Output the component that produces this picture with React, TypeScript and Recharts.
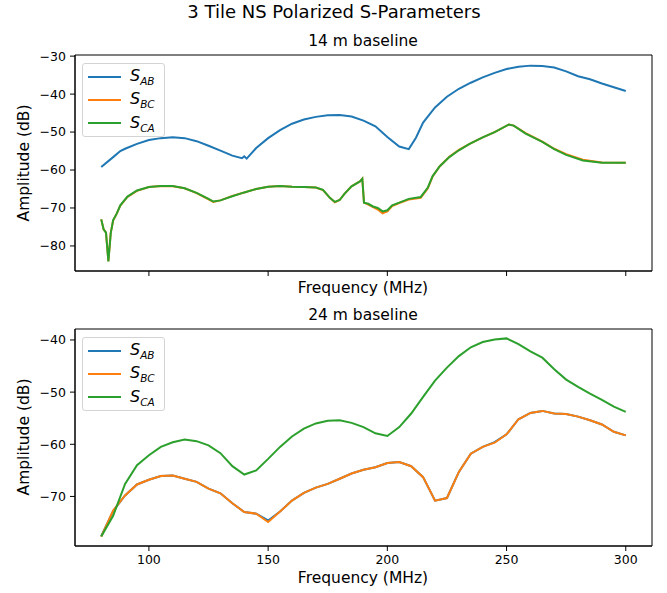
import React from "react";
import { LineChart, Line, XAxis, YAxis, Legend, ReferenceArea } from "recharts";

const FONT = "'DejaVu Sans', sans-serif";

const seriesNames = ["AB", "BC", "CA"];
const seriesColors = ["#1f77b4", "#ff7f0e", "#2ca02c"];
const freqTicks = [100, 150, 200, 250, 300];
const freqDomain = [69, 311];

// 14 m baseline
const topFreqAB = [
  80, 85, 88, 90, 95, 100, 105, 110, 115, 120, 125, 130, 135, 139, 140, 141,
  145, 150, 155, 160, 165, 170, 175, 180, 185, 190, 195, 200, 205, 209, 212,
  215, 220, 225, 230, 235, 240, 245, 250, 255, 260, 265, 270, 275, 280, 285,
  290, 295, 300,
];
const topAB = [
  -59.2, -56.6, -55.0, -54.4, -53.1, -52.1, -51.6, -51.4, -51.6, -52.4, -53.6,
  -54.9, -56.2, -56.9, -56.4, -57.0, -54.2, -51.6, -49.5, -47.8, -46.7, -46.0,
  -45.6, -45.5, -45.9, -47.0, -48.5, -51.3, -53.8, -54.5, -51.5, -47.5, -43.5,
  -40.7, -38.6, -37.0, -35.6, -34.4, -33.4, -32.8, -32.5, -32.6, -33.0, -34.0,
  -35.3, -36.1, -37.2, -38.2, -39.2,
];
const topFreq = [
  80, 81, 82, 83, 84, 85, 86.5, 88, 91, 95, 100, 105, 110, 115, 120, 125, 127,
  130, 135, 140, 145, 150, 155, 160, 165, 170, 173, 176, 178, 180, 182, 185,
  188.5, 189.5, 190.2, 192, 194, 196, 198, 200, 202, 205, 209, 214, 217, 219,
  222, 226, 230, 234.5, 240, 245, 251, 253, 258, 265, 270, 275, 282, 290, 300,
];
const topBC = [
  -73.0, -75.6, -76.5, -84.0, -76.5, -73.3, -71.5, -69.4, -67.1, -65.5, -64.5,
  -64.2, -64.3, -64.8, -66.1, -67.7, -68.4, -68.0, -66.8, -65.9, -65.0, -64.4,
  -64.2, -64.4, -64.5, -64.6, -65.3, -67.4, -68.5, -67.9, -66.3, -64.3, -63.0,
  -62.3, -68.6, -69.1, -69.8, -70.4, -71.4, -70.9, -69.5, -68.7, -67.8, -67.3,
  -64.8, -61.7, -59.0, -56.5, -54.7, -53.1, -51.4, -50.0, -48.0, -48.3, -50.3,
  -52.5, -54.4, -55.8, -57.3, -58.0, -58.1,
];
const topCA = [
  -73.0, -75.6, -76.5, -84.1, -76.6, -73.2, -71.5, -69.3, -67.0, -65.4, -64.5,
  -64.2, -64.2, -64.8, -66.0, -67.6, -68.3, -68.0, -66.9, -65.9, -65.0, -64.4,
  -64.2, -64.4, -64.5, -64.6, -65.2, -67.4, -68.4, -67.9, -66.3, -64.3, -63.0,
  -62.3, -68.6, -68.9, -69.6, -70.0, -70.9, -70.6, -69.3, -68.6, -67.6, -67.1,
  -64.6, -61.6, -59.0, -56.6, -54.8, -53.1, -51.4, -50.0, -48.0, -48.3, -50.4,
  -52.6, -54.5, -56.0, -57.5, -58.1, -58.1,
];
const topYTicks = [-80, -70, -60, -50, -40, -30];

// 24 m baseline
const botFreq = [
  80, 85, 90, 95, 100, 105, 110, 115, 120, 125, 130, 135, 140, 145, 150, 155,
  160, 165, 170, 175, 180, 185, 190, 195, 200, 205, 210, 215, 220, 225, 230,
  235, 240, 245, 250, 255, 260, 265, 270, 275, 280, 285, 290, 295, 300,
];
const botAB = [
  -77.6, -72.8, -69.8, -67.7, -66.8, -66.1, -66.0, -66.6, -67.2, -68.5, -69.4,
  -71.3, -73.0, -73.3, -74.6, -72.9, -70.8, -69.3, -68.3, -67.6, -66.6, -65.6,
  -64.9, -64.4, -63.6, -63.4, -64.2, -66.3, -70.8, -70.3, -65.3, -61.8, -60.5,
  -59.6, -58.1, -55.2, -54.0, -53.6, -54.1, -54.2, -54.7, -55.4, -56.2, -57.6,
  -58.3,
];
const botBC = [
  -77.7, -72.7, -69.8, -67.7, -66.8, -66.1, -66.0, -66.6, -67.2, -68.5, -69.4,
  -71.3, -73.0, -73.3, -74.9, -72.9, -70.8, -69.3, -68.3, -67.6, -66.6, -65.6,
  -64.9, -64.4, -63.6, -63.4, -64.2, -66.3, -70.8, -70.3, -65.3, -61.8, -60.5,
  -59.7, -58.1, -55.2, -54.0, -53.6, -54.1, -54.2, -54.7, -55.4, -56.2, -57.6,
  -58.3,
];
const botCA = [
  -77.7, -73.7, -67.6, -64.0, -62.1, -60.5, -59.6, -59.1, -59.4, -60.2, -61.7,
  -64.2, -65.8, -65.0, -62.8, -60.5, -58.5, -57.0, -56.0, -55.5, -55.4, -55.9,
  -56.7, -57.9, -58.4, -56.7, -54.1, -50.9, -47.8, -45.3, -43.1, -41.4, -40.4,
  -39.9, -39.7, -40.8, -42.2, -43.4, -45.6, -47.6, -49.0, -50.3, -51.5, -52.8,
  -53.8,
];
const botYTicks = [-70, -60, -50, -40];

const toRows = (f: number[], v: number[]) => f.map((x, i) => ({ f: x, v: v[i] }));

const fmt = (v: number) => (v < 0 ? "\u2212" + Math.abs(v) : String(v));
const tickStyle = { fill: "#000", fontSize: 12.5, fontFamily: FONT };
const noLabel = () => <g />;

const SLegend = ({ payload }: any) => (
  <div
    style={{
      border: "1px solid #d4d4d4",
      borderRadius: 3,
      background: "rgba(255,255,255,0.8)",
      width: 81,
      padding: "1px 0",
      fontFamily: FONT,
    }}
  >
    {(payload || []).map((p: any) => (
      <div key={p.value} style={{ display: "flex", alignItems: "center", height: 23.3 }}>
        <span style={{ display: "inline-block", width: 33, height: 2, background: p.color, marginLeft: 5, marginRight: 9 }} />
        <span style={{ fontStyle: "italic", fontSize: 16, color: "#000", lineHeight: "16px" }}>
          S<span style={{ fontSize: 10.5, position: "relative", top: 4 }}>{p.value}</span>
        </span>
      </div>
    ))}
  </div>
);

const Panel = ({ top, height, marginTop, xHeight, yDomain, yTicks, showXLabels, lines, legendTop }: any) => (
  <div style={{ position: "absolute", left: 0, top }}>
    <LineChart width={667} height={height} margin={{ top: marginTop, right: 15, bottom: 0, left: 0 }}>
      <XAxis
        dataKey="f"
        type="number"
        domain={freqDomain}
        ticks={freqTicks}
        tick={showXLabels ? tickStyle : noLabel}
        tickLine={{ stroke: "#000" }}
        tickSize={5}
        tickMargin={4}
        stroke="#000"
        height={xHeight}
        allowDataOverflow
      />
      <YAxis
        type="number"
        domain={yDomain}
        ticks={yTicks}
        width={75}
        tick={tickStyle}
        tickSize={5}
        tickMargin={4}
        tickFormatter={fmt}
        stroke="#000"
        allowDataOverflow
      />
      <ReferenceArea
        x1={freqDomain[0]}
        x2={freqDomain[1]}
        y1={yDomain[0]}
        y2={yDomain[1]}
        fill="none"
        fillOpacity={0}
        stroke="#000"
        strokeWidth={1}
        ifOverflow="visible"
      />
      {lines.map((s: any, i: number) => (
        <Line
          key={seriesNames[i]}
          data={s}
          dataKey="v"
          name={seriesNames[i]}
          stroke={seriesColors[i]}
          strokeWidth={2}
          dot={false}
          type="linear"
          isAnimationActive={false}
        />
      ))}
      <Legend
        layout="vertical"
        align="center"
        verticalAlign="middle"
        wrapperStyle={{ left: 82, top: legendTop, width: 83, height: 76 }}
        content={<SLegend />}
      />
    </LineChart>
  </div>
);

const Txt = ({ x, y, size, children, rotate }: any) => (
  <div
    style={{
      position: "absolute",
      left: x,
      top: y,
      transform: `translate(-50%, -50%)${rotate ? " rotate(-90deg)" : ""}`,
      fontFamily: FONT,
      fontSize: size,
      whiteSpace: "nowrap",
      lineHeight: 1,
      color: "#000",
    }}
  >
    {children}
  </div>
);

export default function App() {
  const topLines = [toRows(topFreqAB, topAB), toRows(topFreq, topBC), toRows(topFreq, topCA)];
  const botLines = [toRows(botFreq, botAB), toRows(botFreq, botBC), toRows(botFreq, botCA)];
  return (
    <div style={{ position: "absolute", left: 0, top: 0, width: 667, height: 593, background: "#fff" }}>
      <Panel
        top={0}
        height={300}
        marginTop={55}
        xHeight={29}
        yDomain={[-86.6, -29.7]}
        yTicks={topYTicks}
        showXLabels={false}
        lines={topLines}
        legendTop={63}
      />
      <Panel
        top={300}
        height={293}
        marginTop={29}
        xHeight={47}
        yDomain={[-79.5, -37.9]}
        yTicks={botYTicks}
        showXLabels={true}
        lines={botLines}
        legendTop={37}
      />
      <Txt x={334} y={12} size={18}>3 Tile NS Polarized S-Parameters</Txt>
      <Txt x={363} y={42} size={15.5}>14 m baseline</Txt>
      <Txt x={363} y={289} size={15.5}>Frequency (MHz)</Txt>
      <Txt x={25} y={163} size={15.5} rotate>Amplitude (dB)</Txt>
      <Txt x={363} y={316} size={15.5}>24 m baseline</Txt>
      <Txt x={363} y={579} size={15.5}>Frequency (MHz)</Txt>
      <Txt x={25} y={437} size={15.5} rotate>Amplitude (dB)</Txt>
    </div>
  );
}
